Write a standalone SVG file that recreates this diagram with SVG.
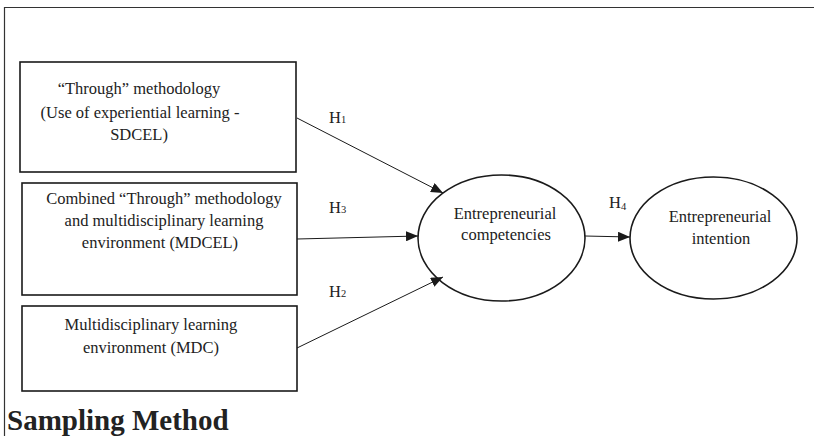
<svg xmlns="http://www.w3.org/2000/svg" width="814" height="436" viewBox="0 0 814 436">
<defs>
<style>
.box{fill:#fff;stroke:#1a1a1a;stroke-width:1.6}
.ell{fill:#fff;stroke:#1a1a1a;stroke-width:1.6}
.t{font-family:"Liberation Serif","Times New Roman",serif;font-size:16.5px;fill:#222;text-anchor:middle}
.h{font-family:"Liberation Serif","Times New Roman",serif;font-size:16.5px;fill:#222}
.sub{font-size:10.5px}
.c{stroke:#1a1a1a;stroke-width:1;fill:none;marker-end:url(#ah)}
</style>
<marker id="ah" viewBox="0 0 12 10" refX="12" refY="5" markerWidth="12" markerHeight="10" markerUnits="userSpaceOnUse" orient="auto">
<path d="M0,0 L12,5 L0,10 Z" fill="#1a1a1a"/>
</marker>
</defs>
<rect width="814" height="436" fill="#fff"/>
<path d="M4.5,436 V7.5 H814" fill="none" stroke="#333" stroke-width="1.2"/>
<g id="box1">
<rect class="box" x="20" y="62" width="276" height="110"/>
<text class="t" x="139" y="94">“Through” methodology</text>
<text class="t" x="140" y="118">(Use of experiential learning -</text>
<text class="t" x="139" y="140">SDCEL)</text>
</g>
<g id="box2">
<rect class="box" x="22" y="183" width="275" height="112"/>
<text class="t" x="164" y="204">Combined “Through” methodology</text>
<text class="t" x="164" y="226">and multidisciplinary learning</text>
<text class="t" x="160" y="248">environment (MDCEL)</text>
</g>
<g id="box3">
<rect class="box" x="22" y="306" width="275" height="85"/>
<text class="t" x="151" y="330">Multidisciplinary learning</text>
<text class="t" x="151" y="353">environment (MDC)</text>
</g>
<g id="ec">
<ellipse class="ell" cx="501.5" cy="238" rx="83.5" ry="63"/>
<text class="t" x="505" y="219">Entrepreneurial</text>
<text class="t" x="506" y="240">competencies</text>
</g>
<g id="ei">
<ellipse class="ell" cx="713.5" cy="238" rx="83.5" ry="61"/>
<text class="t" x="720" y="222">Entrepreneurial</text>
<text class="t" x="721" y="244">intention</text>
</g>
<g id="connectors">
<line class="c" x1="297" y1="118" x2="443" y2="193"/>
<line class="c" x1="297" y1="239" x2="418" y2="236"/>
<line class="c" x1="297" y1="348" x2="443" y2="277"/>
<line class="c" x1="585" y1="236" x2="630" y2="237"/>
<text class="h" x="329" y="123">H<tspan class="sub">1</tspan></text>
<text class="h" x="329" y="213">H<tspan class="sub">3</tspan></text>
<text class="h" x="329" y="297">H<tspan class="sub">2</tspan></text>
<text class="h" x="609" y="208">H<tspan class="sub" dy="1.5">4</tspan></text>
</g>
<text x="7" y="430" font-family="'Liberation Serif','Times New Roman',serif" font-size="29" font-weight="bold" fill="#222">Sampling Method</text>
</svg>
